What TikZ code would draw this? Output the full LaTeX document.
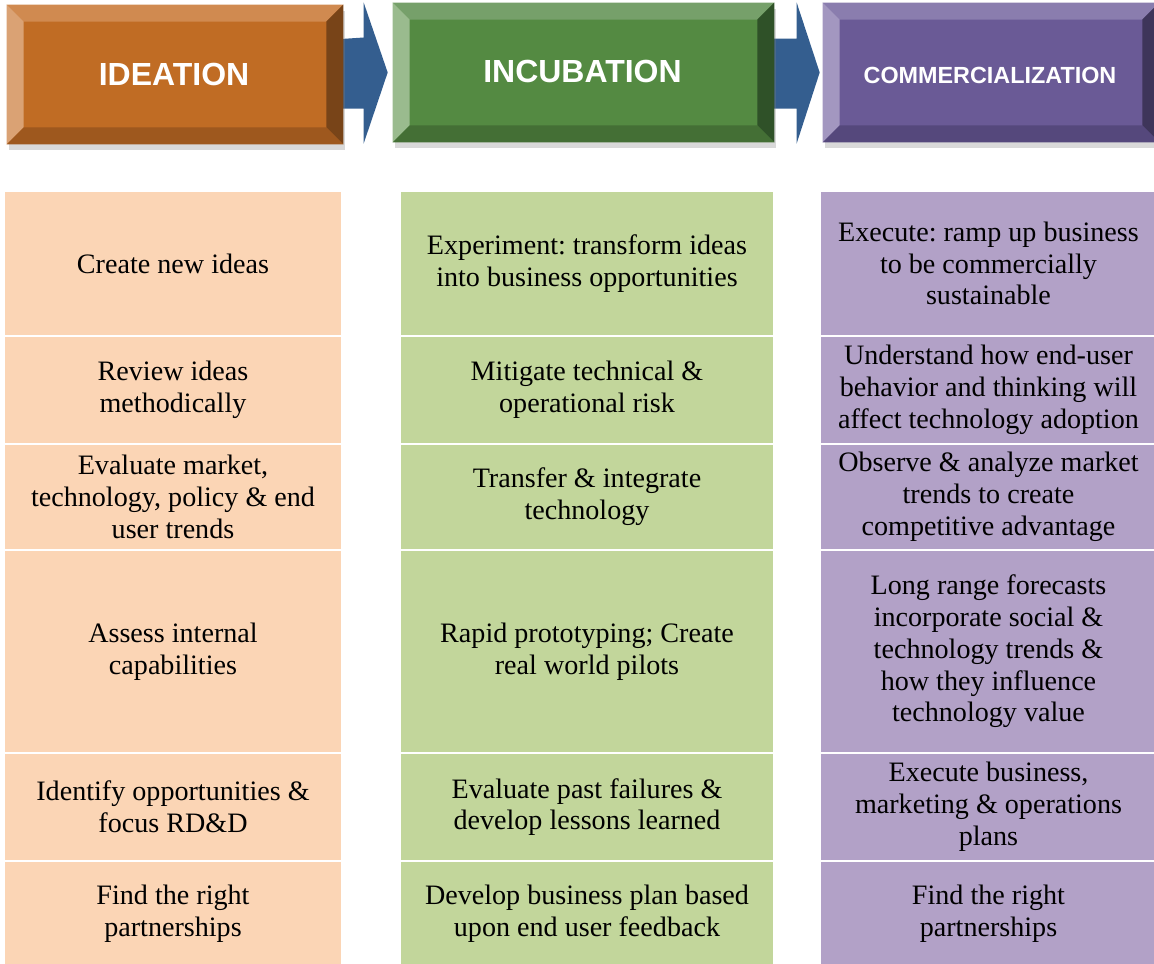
\documentclass[tikz,border=0pt]{standalone}
\usepackage{fontspec}
\setmainfont{Liberation Serif}
\newfontfamily\headfont{Liberation Sans}
\frenchspacing
\usetikzlibrary{calc,shadows,backgrounds}
\definecolor{FlowBlue}{RGB}{52,94,143}
\definecolor{IdeaMain}{RGB}{192,108,36}
\definecolor{IdeaTop}{RGB}{208,138,80}
\definecolor{IdeaLeft}{RGB}{218,162,116}
\definecolor{IdeaRight}{RGB}{120,68,24}
\definecolor{IdeaBottom}{RGB}{158,88,30}
\definecolor{IncuMain}{RGB}{84,138,66}
\definecolor{IncuTop}{RGB}{118,160,106}
\definecolor{IncuLeft}{RGB}{154,187,142}
\definecolor{IncuRight}{RGB}{47,81,40}
\definecolor{IncuBottom}{RGB}{68,111,53}
\definecolor{ComMain}{RGB}{106,90,150}
\definecolor{ComTop}{RGB}{138,125,174}
\definecolor{ComLeft}{RGB}{163,151,192}
\definecolor{ComRight}{RGB}{62,53,90}
\definecolor{ComBottom}{RGB}{85,72,124}
\definecolor{IdeaCell}{RGB}{251,213,181}
\definecolor{IncuCell}{RGB}{194,214,155}
\definecolor{ComCell}{RGB}{178,161,199}
% bevelled frame round a header node: name, top, left, right, bottom
\newcommand{\bevel}[5]{%
  \fill[#2] (#1.north west) -- (#1.north east) -- ++(-17,17) -- ($(#1.north west)+(17,17)$) -- cycle;
  \fill[#3] (#1.north west) -- ++(17,17) -- ($(#1.south west)+(17,-17)$) -- (#1.south west) -- cycle;
  \fill[#4] (#1.north east) -- ++(-17,17) -- ($(#1.south east)+(-17,-17)$) -- (#1.south east) -- cycle;
  \fill[#5] (#1.south west) -- ++(17,-17) -- ($(#1.south east)+(-17,-17)$) -- (#1.south east) -- cycle;}

\begin{document}
\begin{tikzpicture}[x=0.02cm,y=-0.02cm,
    head/.style={inner sep=0mm,minimum height=2.78cm,
      drop shadow={shadow xshift=0.4mm,shadow yshift=-1.2mm,opacity=0.3}},
    headtext/.style={text=white,font=\headfont\bfseries\fontsize{18.2}{20}\selectfont},
    cell/.style={inner sep=0mm,align=center,font=\fontsize{16}{18.1}\selectfont},
    flow/.style={fill=FlowBlue}]
  \useasboundingbox (0,0) rectangle (1154,964);
  \clip (0,0) rectangle (1154,964);

  % phase headers
  \node[head,fill=IdeaMain,minimum width=6.72cm] (ideation) at (175,74.5) {};
  \node[head,fill=IncuMain,minimum width=7.62cm] (incubation) at (583.5,72.5) {};
  \node[head,fill=ComMain,minimum width=6.72cm] (commercial) at (991,72.5) {};
  \bevel{ideation}{IdeaTop}{IdeaLeft}{IdeaRight}{IdeaBottom}
  \bevel{incubation}{IncuTop}{IncuLeft}{IncuRight}{IncuBottom}
  \bevel{commercial}{ComTop}{ComLeft}{ComRight}{ComBottom}
  \node[headtext] (ideationtxt) at ($(ideation)+(-1,0)$) {IDEATION};
  \node[headtext] (incubationtxt) at ($(incubation)+(-1,-1)$) {INCUBATION};
  \node[headtext,font=\headfont\bfseries\fontsize{13.3}{15}\selectfont] (commercialtxt) at ($(commercial)+(-1,3)$) {COMMERCIALIZATION};
  \begin{scope}[on background layer]
    \fill[flow] ($(ideation.east)+(-10,-35)$) -- ($(incubation.west)+(-29,-35)$) -- ($(incubation.west)+(-29,-70)$)
      -- ($(incubation.west)+(-5,0)$) -- ($(incubation.west)+(-29,71)$) -- ($(incubation.west)+(-29,36)$)
      -- ($(ideation.east)+(-10,34)$) -- cycle;
    \fill[flow] ($(incubation.east)+(-10,-34)$) -- ($(commercial.west)+(-26,-34)$) -- ($(commercial.west)+(-26,-70)$)
      -- ($(commercial.west)+(-3,0)$) -- ($(commercial.west)+(-26,71)$) -- ($(commercial.west)+(-26,36)$)
      -- ($(incubation.east)+(-10,36)$) -- cycle;
  \end{scope}

  % ideation column
  \node[cell,fill=IdeaCell,minimum width=6.72cm,minimum height=2.86cm] (idea1) at (173,263.5) {Create new ideas};
  \node[cell,fill=IdeaCell,minimum width=6.72cm,minimum height=2.12cm] (idea2) at (173,390) {Review ideas\\methodically};
  \node[cell,fill=IdeaCell,minimum width=6.72cm,minimum height=2.08cm] (idea3) at (173,497) {Evaluate market,\\technology, policy \& end\\user trends};
  \node[cell,fill=IdeaCell,minimum width=6.72cm,minimum height=4.02cm] (idea4) at (173,651.5) {Assess internal\\capabilities};
  \node[cell,fill=IdeaCell,minimum width=6.72cm,minimum height=2.12cm] (idea5) at (173,807) {Identify opportunities \&\\focus RD\&D};
  \node[cell,fill=IdeaCell,minimum width=6.72cm,minimum height=2.08cm] (idea6) at (173,914) {Find the right\\partnerships};

  % incubation column
  \node[cell,fill=IncuCell,minimum width=7.44cm,minimum height=2.86cm] (incu1) at (587,263.5) {Experiment: transform ideas\\into business opportunities};
  \node[cell,fill=IncuCell,minimum width=7.44cm,minimum height=2.12cm] (incu2) at (587,390) {Mitigate technical \&\\operational risk};
  \node[cell,fill=IncuCell,minimum width=7.44cm,minimum height=2.08cm] (incu3) at (587,497) {Transfer \& integrate\\technology};
  \node[cell,fill=IncuCell,minimum width=7.44cm,minimum height=4.02cm] (incu4) at (587,651.5) {Rapid prototyping; Create\\real world pilots};
  \node[cell,fill=IncuCell,minimum width=7.44cm,minimum height=2.12cm] (incu5) at (587,807) {Evaluate past failures \&\\develop lessons learned};
  \node[cell,fill=IncuCell,minimum width=7.44cm,minimum height=2.08cm] (incu6) at (587,914) {Develop business plan based\\upon end user feedback};

  % commercialization column
  \node[cell,fill=ComCell,minimum width=6.7cm,minimum height=2.86cm] (com1) at (988.5,263.5) {Execute: ramp up business\\to be commercially\\sustainable};
  \node[cell,fill=ComCell,minimum width=6.7cm,minimum height=2.12cm] (com2) at (988.5,390) {Understand how end-user\\behavior and thinking will\\affect technology adoption};
  \node[cell,fill=ComCell,minimum width=6.7cm,minimum height=2.08cm] (com3) at (988.5,497) {Observe \& analyze market\\trends to create\\competitive advantage};
  \node[cell,fill=ComCell,minimum width=6.7cm,minimum height=4.02cm] (com4) at (988.5,651.5) {Long range forecasts\\incorporate social \&\\technology trends \&\\how they influence\\technology value};
  \node[cell,fill=ComCell,minimum width=6.7cm,minimum height=2.12cm] (com5) at (988.5,807) {Execute business,\\marketing \& operations\\plans};
  \node[cell,fill=ComCell,minimum width=6.7cm,minimum height=2.08cm] (com6) at (988.5,914) {Find the right\\partnerships};
\end{tikzpicture}
\end{document}
